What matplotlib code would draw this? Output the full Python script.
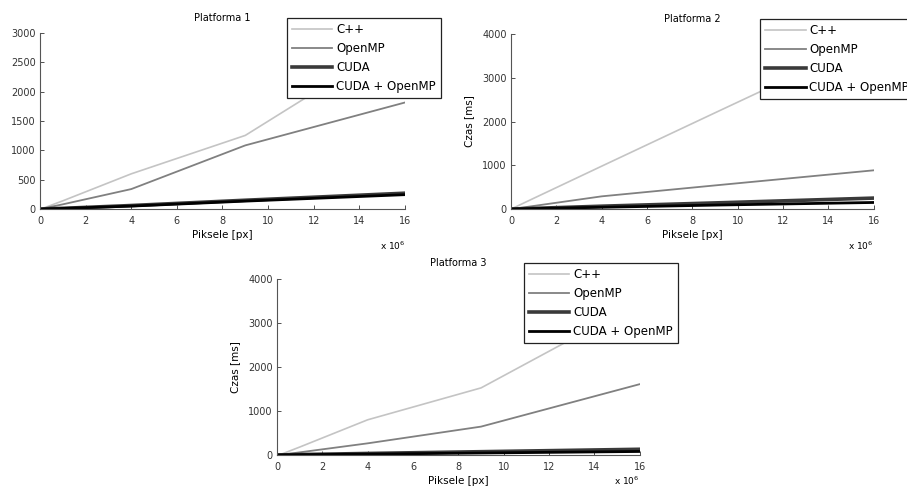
import numpy as np
import matplotlib
matplotlib.use("Agg")
import matplotlib.pyplot as plt

# piksele w milionach (obrazy kwadratowe)
piksele = [0.0625, 0.25, 1, 4, 9, 16]
etykiety = ["C++", "OpenMP", "CUDA", "CUDA + OpenMP"]

# Platforma 1 [ms]
p1_cpp = [5, 30, 140, 600, 1255, 2950]
p1_omp = [4, 20, 80, 340, 1085, 1816]
p1_cuda = [0, 3, 12, 60, 150, 270]
p1_cuda_omp = [0, 3, 10, 50, 135, 245]

# Platforma 2 [ms]
p2_cpp = [15, 60, 245, 980, 2200, 3900]
p2_omp = [2, 15, 70, 290, 540, 885]
p2_cuda = [1, 4, 15, 65, 140, 250]
p2_cuda_omp = [1, 3, 10, 40, 90, 150]

# Platforma 3 [ms]
p3_cpp = [5, 30, 180, 800, 1525, 3470]
p3_omp = [2, 10, 60, 265, 645, 1610]
p3_cuda = [1, 3, 10, 35, 75, 130]
p3_cuda_omp = [1, 2, 6, 20, 45, 80]

kolory = ["#c4c4c4", "#808080", "#3a3a3a", "#000000"]
grubosci = [1.2, 1.3, 2.6, 2.0]

plt.rcParams["font.size"] = 7

fig = plt.figure(figsize=(9.07, 4.93), dpi=100)

def wykres(rect, serie, tytul, ymax, ystep, legenda_xy, ylabel=True, mnoznik_y=-0.21):
    ax = fig.add_axes(rect)
    linie = []
    for s, c, lw in zip(serie, kolory, grubosci):
        l, = ax.plot(piksele, s, color=c, lw=lw)
        linie.append(l)
    ax.set_xlim(0, 16)
    ax.set_ylim(0, ymax)
    ax.set_xticks(np.arange(0, 17, 2))
    ax.set_yticks(np.arange(0, ymax + 1, ystep))
    ax.spines["top"].set_visible(False)
    ax.spines["right"].set_visible(False)
    ax.spines["left"].set_color("#555555")
    ax.spines["bottom"].set_color("#555555")
    ax.tick_params(direction="in", length=3, width=0.6, colors="#333333")
    ax.tick_params(axis="x", pad=5)
    ax.tick_params(axis="y", pad=3)
    ax.set_title(tytul, fontsize=7, pad=9)
    ax.set_xlabel("Piksele [px]", fontsize=7.5, labelpad=3)
    if ylabel:
        ax.set_ylabel("Czas [ms]", fontsize=7.5, labelpad=6)
    ax.text(1.0, mnoznik_y, "x 10$^6$", transform=ax.transAxes, fontsize=6.5,
            ha="right", va="center")
    leg = ax.legend(linie, etykiety, loc="upper left",
                    bbox_to_anchor=legenda_xy, bbox_transform=fig.transFigure,
                    borderaxespad=0, fontsize=8.5, handlelength=3.4,
                    labelspacing=0.5, handletextpad=0.3, borderpad=0.45,
                    fancybox=False, framealpha=1, edgecolor="#222222")
    leg.get_frame().set_linewidth(0.9)
    return ax

wykres([0.0441, 0.576, 0.4024, 0.357],
       [p1_cpp, p1_omp, p1_cuda, p1_cuda_omp],
       "Platforma 1", 3000, 500, (0.3164, 0.9635), ylabel=False)
wykres([0.5634, 0.576, 0.400, 0.355],
       [p2_cpp, p2_omp, p2_cuda, p2_cuda_omp],
       "Platforma 2", 4000, 1000, (0.838, 0.9615))
wykres([0.3054, 0.0771, 0.400, 0.357],
       [p3_cpp, p3_omp, p3_cuda, p3_cuda_omp],
       "Platforma 3", 4000, 1000, (0.5777, 0.4665), mnoznik_y=-0.145)

fig.savefig("out.png", dpi=100)
